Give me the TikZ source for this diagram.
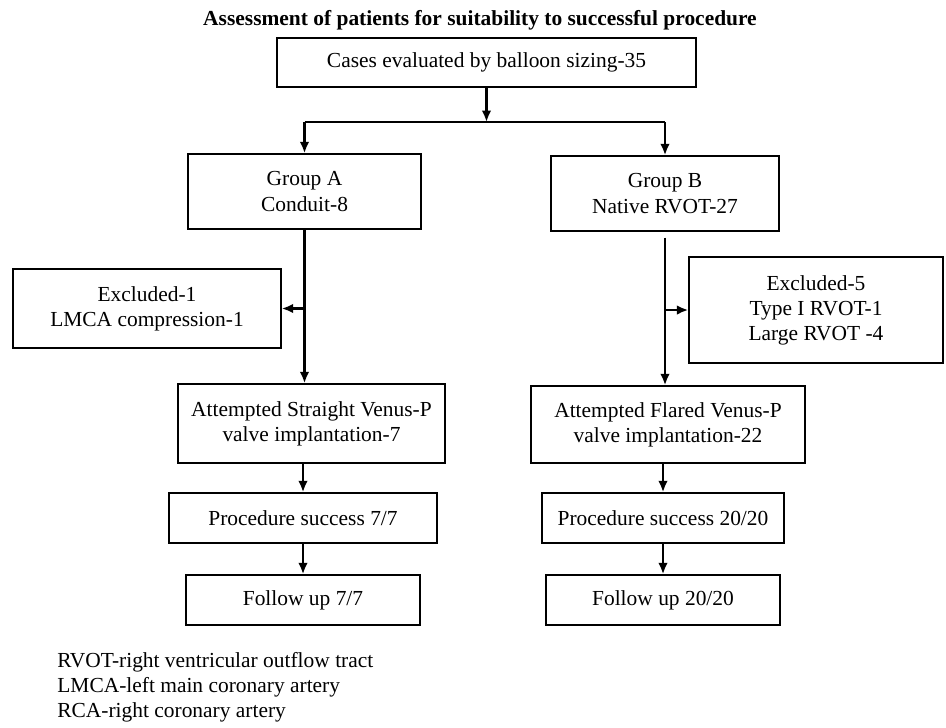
\documentclass[tikz,border=0pt]{standalone}
\usepackage{fontspec}
\setmainfont{Liberation Serif}
\usetikzlibrary{arrows.meta}
\newcommand\boxfont{\fontsize{12.2}{14.3}\selectfont}
\newcommand\ttlfont{\fontsize{12.2}{14.3}\selectfont\bfseries}
\begin{document}
\begin{tikzpicture}[x=0.02cm,y=-0.02cm,
  box/.style={draw, line width=0.85pt, align=center, inner sep=0pt, font=\boxfont},
  arr/.style={-{Latex[length=6.5pt,width=5.5pt]}, line width=1.3pt},
  ln/.style={line width=1.6pt},
  legend/.style={anchor=base west, inner sep=0pt, font=\boxfont}]
\useasboundingbox (0,0) rectangle (946,727);
\node[font=\ttlfont, inner sep=0pt] (title) at (480,20) {Assessment of patients for suitability to successful procedure};
\node[box, minimum width=8.38cm, minimum height=0.98cm] (cases) at (486.5,62.5) {Cases evaluated by balloon sizing-35};
\node[box, minimum width=4.66cm, minimum height=1.5cm] (ga) at (304.5,191.5) {Group A\\Conduit-8};
\node[box, minimum width=4.56cm, minimum height=1.5cm] (gb) at (665,193.5) {Group B\\Native RVOT-27};
\node[box, minimum width=5.36cm, minimum height=1.58cm] (ex1) at (147,308.5) {Excluded-1\\LMCA compression-1};
\node[box, minimum width=5.08cm, minimum height=2.12cm] (ex5) at (816,310) {Excluded-5\\Type I RVOT-1\\Large RVOT -4};
\node[box, minimum width=5.34cm, minimum height=1.58cm] (as) at (311.5,423.5) {Attempted Straight Venus-P\\valve implantation-7};
\node[box, minimum width=5.48cm, minimum height=1.54cm] (af) at (668,424.5) {Attempted Flared Venus-P\\valve implantation-22};
\node[box, minimum width=5.36cm, minimum height=1.0cm] (ps1) at (303,518) {Procedure success 7/7};
\node[box, minimum width=4.84cm, minimum height=1.0cm] (ps2) at (663,518) {Procedure success 20/20};
\node[box, minimum width=4.68cm, minimum height=1.0cm] (fu1) at (303,600) {Follow up 7/7};
\node[box, minimum width=4.68cm, minimum height=1.0cm] (fu2) at (663,600) {Follow up 20/20};
\node[legend] (leg1) at (57,667) {RVOT-right ventricular outflow tract};
\node[legend] (leg2) at (57,692) {LMCA-left main coronary artery};
\node[legend] (leg3) at (57,717) {RCA-right coronary artery};
\coordinate (hb) at (486.5,122);
\coordinate (hl) at (ga.north |- hb);
\coordinate (hr) at (gb.north |- hb);
\coordinate (gbtop) at ([yshift=-6*0.02cm]gb.south);
\draw[arr] (cases.south) -- (hb);
\draw[ln] (hl) -- (hr);
\draw[arr] (hl) -- (ga.north);
\draw[arr] (hr) -- (gb.north);
\draw[arr] (ga.south) -- (ga.south |- as.north);
\draw[arr] (ga.south |- ex1.east) -- (ex1.east);
\draw[arr] (gbtop) -- (gbtop |- af.north);
\draw[arr] (gbtop |- ex5.west) -- (ex5.west);
\draw[arr] (ps1.north |- as.south) -- (ps1.north);
\draw[arr] (ps1.south) -- (fu1.north);
\draw[arr] (ps2.north |- af.south) -- (ps2.north);
\draw[arr] (ps2.south) -- (fu2.north);
\end{tikzpicture}
\end{document}
